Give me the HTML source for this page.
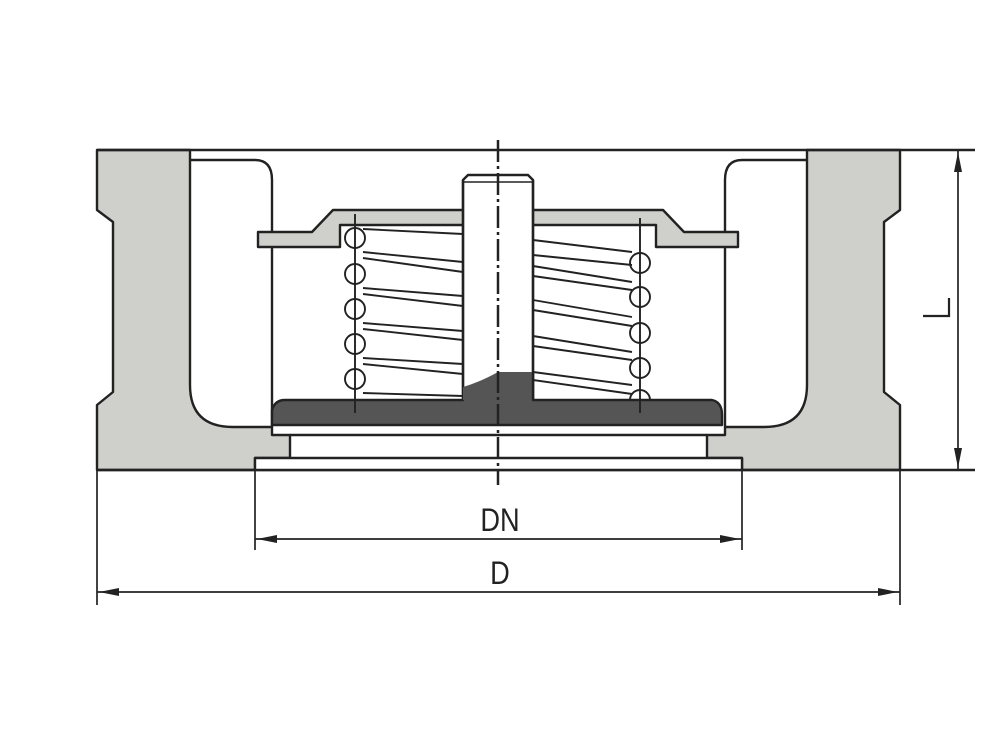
<!DOCTYPE html>
<html><head><meta charset="utf-8"><style>html,body{margin:0;padding:0;background:#fff;width:1000px;height:750px;overflow:hidden}</style></head>
<body>
<svg width="1000" height="750" viewBox="0 0 1000 750" xmlns="http://www.w3.org/2000/svg">
<g stroke="#222" stroke-width="2.4" fill="none" stroke-linejoin="round">
<path d="M97,150 L190,150 L190,385 Q190,427 233,427 L272,427 L272,435 L290,435 L290,458 L255,458 L255,470 L97,470 L97,405 L113,392 L113,222 L97,210 Z" fill="#cfcfcb"/>
<path d="M900,150 L807,150 L807,385 Q807,427 764,427 L725,427 L725,435 L707,435 L707,458 L742,458 L742,470 L900,470 L900,405 L884,392 L884,222 L900,210 Z" fill="#cfcfcb"/>
<line x1="97" y1="150" x2="975" y2="150"/>
<line x1="97" y1="470" x2="975" y2="470"/>
<path d="M190,160 L255,160 Q272,160 272,180 L272,427"/>
<path d="M807,160 L742,160 Q725,160 725,180 L725,427"/>
<rect x="255" y="458" width="487" height="12" fill="#fff"/>
<line x1="290" y1="435" x2="707" y2="435"/>
<path d="M272,425 L272,410 Q275,400 285,400 L463,400 L463,387 Q480,382 498,372 L533,372 L533,400 L712,400 Q722,402 722,415 L722,425 Z" fill="#555"/>
<path d="M258,232 L312,232 L333,210 L663,210 L684,232 L738,232 L738,247 L656,247 L656,225 L340,225 L340,247 L258,247 Z" fill="#cfcfcb"/>
<path d="M463,400 L463,180 L468,175 L528,175 L533,180 L533,372 L533,400" fill="#fff"/>
<path d="M463,387 Q480,382 498,372 L533,372 L533,400 L463,400 Z" fill="#555" stroke="none"/>
<line x1="463" y1="180" x2="463" y2="387"/>
<line x1="533" y1="180" x2="533" y2="400"/>
<line x1="463" y1="182" x2="533" y2="182" stroke-width="1.5"/>
<g stroke-width="1.9">
<circle cx="355" cy="238" r="10"/><circle cx="355" cy="274" r="10"/><circle cx="355" cy="309" r="10"/><circle cx="355" cy="344" r="10"/><circle cx="355" cy="379" r="10"/>
<line x1="355" y1="214" x2="355" y2="413"/>
<path d="M363,229 L463,234 M363,252 L463,262 M363,258 L463,272 M363,288 L463,296 M363,294 L463,306 M363,323 L463,331 M363,329 L463,340 M363,358 L463,364 M363,364 L463,374 M363,393 L463,396"/>
<circle cx="640" cy="263" r="10"/><circle cx="640" cy="297" r="10"/><circle cx="640" cy="333" r="10"/><circle cx="640" cy="368" r="10"/>
<path d="M630,400 A10,10 0 0 1 650,400"/>
<line x1="640" y1="218" x2="640" y2="413"/>
<path d="M533,240 L632,252 M533,255 L632,265 M533,266 L632,282 M533,276 L632,290 M533,300 L632,317 M533,310 L632,326 M533,336 L632,352 M533,346 L632,360 M533,372 L632,385 M533,380 L632,394"/>
</g>
<line x1="498" y1="140" x2="498" y2="485" stroke-width="2.5" stroke-dasharray="22,4,3,4"/>
<g stroke-width="1.7">
<line x1="958" y1="150" x2="958" y2="470"/>
<line x1="255" y1="470" x2="255" y2="550"/><line x1="742" y1="470" x2="742" y2="550"/>
<line x1="255" y1="539" x2="742" y2="539"/>
<line x1="97" y1="470" x2="97" y2="605"/><line x1="900" y1="470" x2="900" y2="605"/>
<line x1="97" y1="592" x2="900" y2="592"/>
</g>
<g fill="#222" stroke="none">
<path d="M958,152 L954,172 L962,172 Z"/><path d="M958,468 L954,448 L962,448 Z"/>
<path d="M257,539 L277,535 L277,543 Z"/><path d="M740,539 L720,535 L720,543 Z"/>
<path d="M99,592 L119,588 L119,596 Z"/><path d="M898,592 L878,588 L878,596 Z"/>
</g>
</g>
<g font-family="Liberation Sans, sans-serif" fill="#222" font-size="32" text-anchor="middle">
<text x="0" y="0" transform="translate(500,531) scale(0.85,1)">DN</text>
<text x="0" y="0" transform="translate(500,584) scale(0.85,1)">D</text>
</g>
<path d="M923,316 L949,316 L949,298" stroke="#222" stroke-width="2.2" fill="none"/>
</svg>
</body></html>
